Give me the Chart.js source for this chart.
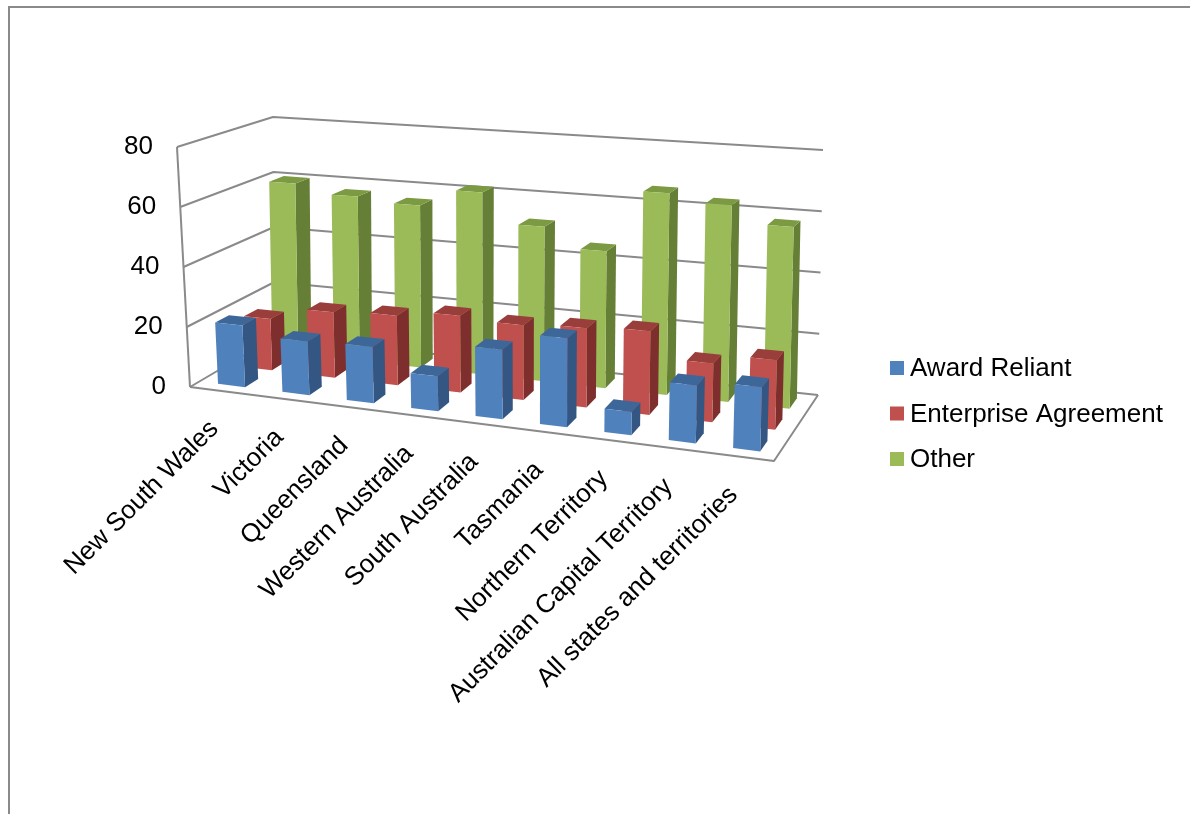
<!DOCTYPE html>
<html lang="en">
<head>
  <meta charset="UTF-8">
  <meta name="viewport" content="width=device-width, initial-scale=1.0">
  <title>Pay setting method by state</title>
  <style>
    html, body { margin: 0; padding: 0; background: #fff; overflow: hidden; }
    #frame { position: absolute; left: 8px; top: 6px; width: 1300px; height: 900px; border: 2px solid #8a8a8a; }
    #wrap { position: absolute; left: 0; top: 0; width: 1190px; height: 814px; }
  </style>
</head>
<body>
  <div id="frame"></div>
  <div id="wrap"><canvas id="myChart"></canvas></div>
  <script src="https://cdn.jsdelivr.net/npm/chart.js"></script>
  <script>
    const categories = ['New South Wales', 'Victoria', 'Queensland', 'Western Australia', 'South Australia',
      'Tasmania', 'Northern Territory', 'Australian Capital Territory', 'All states and territories'];
    const awardReliant = [20.5, 17.5, 18, 11, 21.5, 27, 7, 17, 18.5];
    const enterpriseAgreement = [17.5, 22, 23, 25, 24, 25, 26, 18, 21];
    const other = [60, 57, 55.5, 61.5, 51.5, 45, 65.5, 63, 57.5];
    const yTicks = [0, 20, 40, 60, 80];

    // front / top / side shades of each series
    const shades = [
      { front: '#4F81BD', top: '#3E6799', side: '#335682' },
      { front: '#C0504D', top: '#9A3E3B', side: '#7E2F2D' },
      { front: '#9BBB59', top: '#7B9A42', side: '#667F36' }
    ];
    const rowDepth = [0.11, 0.44, 0.76]; // depth of each row's front face (0 = front edge, 1 = back wall)
    const barDepth = 0.16;
    const FONT = '26px "Liberation Sans", Arial, sans-serif';

    // maps (t across categories, v up the value axis, z into the depth) to canvas pixels
    function makeProjector(chart) {
      const { left: L, right: R } = chart.chartArea;
      const ys = chart.scales.y;
      const y0 = ys.getPixelForValue(ys.min), y1 = ys.getPixelForValue(ys.max);
      const fl0 = [L, y0], fl1 = [L - 13, y1], fr0 = [R, y0 + 74], fr1 = [R + 9, y1 + 31];
      const bl0 = [L + 85, y0 - 50], bl1 = [L + 83, y1 - 30], br0 = [R + 44, y0 + 8], br1 = [R + 49, y1 + 3];
      const bil = (a0, b0, a1, b1, t, v, k) =>
        (a0[k] * (1 - t) + b0[k] * t) * (1 - v) + (a1[k] * (1 - t) + b1[k] * t) * v;
      const P = (t, v, z) => {
        const fx = bil(fl0, fr0, fl1, fr1, t, v, 0), fy = bil(fl0, fr0, fl1, fr1, t, v, 1);
        const bx = bil(bl0, br0, bl1, br1, t, v, 0), by = bil(bl0, br0, bl1, br1, t, v, 1);
        return [fx + (bx - fx) * z, fy + (by - fy) * z];
      };
      P.t = px => (px - L) / (R - L);
      P.v = py => (y0 - py) / (y0 - y1);
      return P;
    }

    function poly(ctx, pts, fill) {
      ctx.beginPath();
      pts.forEach((p, i) => i ? ctx.lineTo(p[0], p[1]) : ctx.moveTo(p[0], p[1]));
      if (fill) { ctx.closePath(); ctx.fillStyle = fill; ctx.fill(); } else ctx.stroke();
    }

    const bars3d = {
      id: 'bars3d',
      beforeDatasetDraw() { return false; },
      beforeDatasetsDraw(chart) {
        const ctx = chart.ctx, P = makeProjector(chart), ys = chart.scales.y;
        ctx.save();
        ctx.strokeStyle = '#8a8a8a';
        ctx.lineWidth = 2;
        ctx.lineJoin = 'round';
        yTicks.forEach(tk => {
          const v = P.v(ys.getPixelForValue(tk));
          poly(ctx, [P(0, v, 0), P(0, v, 1), P(1, v, 1)]);
        });
        poly(ctx, [P(0, 0, 0), P(0, 1, 0)]);
        poly(ctx, [P(0, 0, 0), P(1, 0, 0), P(1, 0, 1)]);

        // back row first, left to right
        [2, 1, 0].forEach(di => {
          const s = shades[di], z0 = rowDepth[di], z1 = z0 + barDepth;
          chart.getDatasetMeta(di).data.forEach(bar => {
            const { x, y, width } = bar.getProps(['x', 'y', 'width'], true);
            const t0 = P.t(x - width / 2), t1 = P.t(x + width / 2), v = P.v(y);
            poly(ctx, [P(t1, 0, z0), P(t1, 0, z1), P(t1, v, z1), P(t1, v, z0)], s.side);
            poly(ctx, [P(t0, v, z0), P(t1, v, z0), P(t1, v, z1), P(t0, v, z1)], s.top);
            const a = P(t0, 0, z0), b = P(t1, 0, z0);
            const g = ctx.createLinearGradient(a[0], 0, b[0], 0);
            g.addColorStop(0, s.front);
            g.addColorStop(1, s.front);
            poly(ctx, [a, b, P(t1, v, z0), P(t0, v, z0)], g);
          });
        });
        ctx.restore();
      },
      afterDraw(chart) {
        const ctx = chart.ctx, P = makeProjector(chart), ys = chart.scales.y, xs = chart.scales.x;
        ctx.save();
        ctx.font = FONT;
        ctx.fillStyle = '#000';
        ctx.textBaseline = 'middle';

        ctx.textAlign = 'right';
        yTicks.forEach(tk => {
          const p = P(0, P.v(ys.getPixelForValue(tk)), 0);
          ctx.fillText(String(tk), p[0] - 24, p[1]);
        });

        categories.forEach((c, i) => {
          const p = P(P.t(xs.getPixelForValue(i)), 0, 0);
          ctx.save();
          ctx.translate(p[0] - 8, p[1] + 34);
          ctx.rotate(-Math.PI / 4);
          ctx.fillText(c, 0, 0);
          ctx.restore();
        });

        // legend
        ctx.textAlign = 'left';
        chart.data.datasets.forEach((ds, i) => {
          const cy = 368 + i * 45.5;
          ctx.fillStyle = ds.backgroundColor;
          ctx.fillRect(890, cy - 7, 14, 14);
          ctx.fillStyle = '#000';
          ctx.fillText(ds.label, 910, cy + 1);
        });
        ctx.restore();
      }
    };

    Chart.defaults.font.family = '"Liberation Sans", Arial, sans-serif';

    new Chart(document.getElementById('myChart'), {
      type: 'bar',
      data: {
        labels: categories,
        datasets: [
          { label: 'Award Reliant', data: awardReliant, backgroundColor: shades[0].front },
          { label: 'Enterprise Agreement', data: enterpriseAgreement, backgroundColor: shades[1].front },
          { label: 'Other', data: other, backgroundColor: shades[2].front }
        ]
      },
      options: {
        responsive: true,
        maintainAspectRatio: false,
        devicePixelRatio: 1,
        animation: false,
        events: [],
        layout: { padding: { left: 190, top: 147, right: 416, bottom: 427 } },
        datasets: { bar: { grouped: false, barPercentage: 0.42, categoryPercentage: 1 } },
        plugins: { legend: { display: false }, tooltip: { enabled: false } },
        scales: {
          x: { display: false },
          y: { display: false, min: 0, max: 80, ticks: { stepSize: 20 } }
        }
      },
      plugins: [bars3d]
    });
  </script>
</body>
</html>
